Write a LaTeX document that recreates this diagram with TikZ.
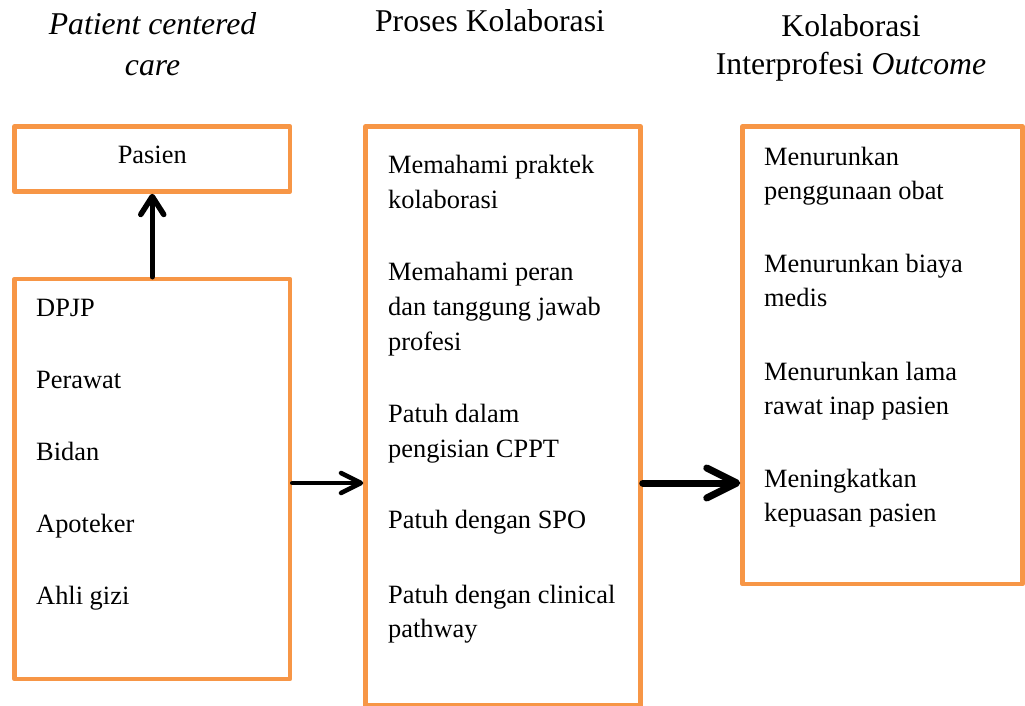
\documentclass[tikz,border=0pt]{standalone}
\usepackage{fontspec}
\setmainfont{Liberation Serif}
\usetikzlibrary{arrows.meta}
\definecolor{boxorange}{HTML}{F79646}
\newcommand\ctwo[2]{\vtop{\halign{\hfil##\hfil\cr#1\cr#2\cr}}}
\newcommand\ltwo[2]{\vtop{\hbox{#1}\hbox{#2}}}
\newcommand\lthree[3]{\vtop{\hbox{#1}\hbox{#2}\hbox{#3}}}
\begin{document}
\begin{tikzpicture}[x=1pt,y=-1pt,
  box/.style={draw=boxorange, line width=4.5pt, line join=round, rectangle, inner sep=0pt},
  body/.style={font=\fontsize{26.4}{35}\selectfont, inner sep=0pt, anchor=base west},
  bodyr/.style={font=\fontsize{26.4}{34.5}\selectfont, inner sep=0pt, anchor=base west},
  titlel/.style={font=\fontsize{31.7}{41}\selectfont, inner sep=0pt, anchor=base},
  titler/.style={font=\fontsize{31.7}{38}\selectfont, inner sep=0pt, anchor=base},
  arrowup/.style={line width=5.5pt, line cap=round, -{Straight Barb[round, length=18pt, width=23pt]}},
  arrowone/.style={line width=4.5pt, line cap=round, -{Straight Barb[round, length=20pt, width=20pt]}},
  arrowtwo/.style={line width=7pt, line cap=round, -{Straight Barb[round, length=30pt, width=30pt]}}
]
\useasboundingbox (0,0) rectangle (1025,706);
\fill[white] (0,0) rectangle (1025,706);

% titles
\node[titlel] (t1) at (152.5,35) {\ctwo{\itshape Patient centered}{\itshape care}};
\node[titlel] (t2) at (490,32) {Proses Kolaborasi};
\node[titler] (t3) at (851,37) {\ctwo{Kolaborasi}{Interprofesi \itshape Outcome}};

% boxes
\node[box, minimum width=275.5pt, minimum height=65pt] (pasienbox) at (152.25,159) {};
\node[box, minimum width=275.5pt, minimum height=400pt] (leftbox) at (152.25,479) {};
\node[box, minimum width=275pt, minimum height=579pt] (midbox) at (503,416) {};
\node[box, minimum width=280pt, minimum height=457.5pt] (rightbox) at (882.5,355.25) {};

% texts
\node[body, anchor=base] (pasien) at (152.25,163) {Pasien};

\node[body] (l1) at (36,316) {DPJP};
\node[body] (l2) at (36,388) {Perawat};
\node[body] (l3) at (36,460) {Bidan};
\node[body] (l4) at (36,532) {Apoteker};
\node[body] (l5) at (36,604) {Ahli gizi};

\node[body] (m1) at (388,173) {\ltwo{Memahami praktek}{kolaborasi}};
\node[body] (m2) at (388,280) {\lthree{Memahami peran}{dan tanggung jawab}{profesi}};
\node[body] (m3) at (388,422) {\ltwo{Patuh dalam}{pengisian CPPT}};
\node[body] (m4) at (388,528) {Patuh dengan SPO};
\node[bodyr] (m5) at (388,603) {\ltwo{Patuh dengan clinical}{pathway}};

\node[bodyr] (r1) at (764,165) {\ltwo{Menurunkan}{penggunaan obat}};
\node[bodyr] (r2) at (764,272) {\ltwo{Menurunkan biaya}{medis}};
\node[bodyr] (r3) at (764,380) {\ltwo{Menurunkan lama}{rawat inap pasien}};
\node[bodyr] (r4) at (764,487) {\ltwo{Meningkatkan}{kepuasan pasien}};

% connectors
\coordinate (row) at (0,483);
\draw[arrowup] (leftbox.north) -- (pasienbox.south);
\draw[arrowone] (leftbox.east |- row) -- (midbox.west |- row);
\draw[arrowtwo] (midbox.east |- row) -- (rightbox.west |- row);
\end{tikzpicture}
\end{document}
